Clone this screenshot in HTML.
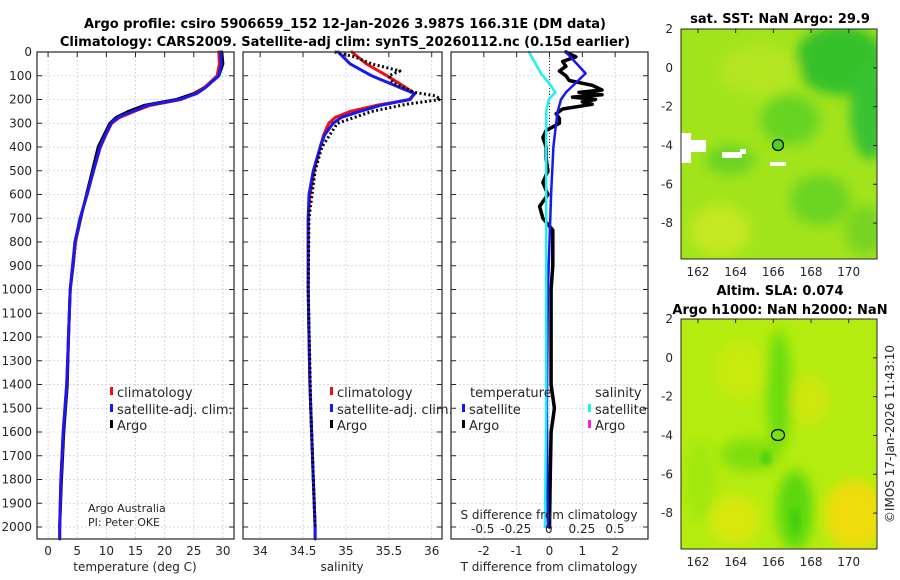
<!DOCTYPE html>
<html><head><meta charset="utf-8">
<style>
html,body{margin:0;padding:0;background:#fff;}
svg{display:block;font-family:"DejaVu Sans","Liberation Sans",sans-serif;}
.t{font-size:12px;fill:#262626;}
.b{font-size:13px;font-weight:bold;fill:#000;}
</style></head>
<body>
<svg id="fig" width="900" height="580" viewBox="0 0 900 580">
<defs>
<filter id="blur" x="-20%" y="-20%" width="140%" height="140%"><feGaussianBlur stdDeviation="6"/></filter>
<filter id="blur2" x="-20%" y="-20%" width="140%" height="140%"><feGaussianBlur stdDeviation="3"/></filter>
<clipPath id="c1"><rect x="681" y="29" width="196" height="230"/></clipPath>
<clipPath id="c2"><rect x="681" y="319" width="196" height="230"/></clipPath>
</defs>
<text class="b" x="345" y="28" text-anchor="middle">Argo profile: csiro 5906659_152 12-Jan-2026 3.987S 166.31E (DM data)</text>
<text class="b" x="345" y="46" text-anchor="middle">Climatology: CARS2009. Satellite-adj clim: synTS_20260112.nc (0.15d earlier)</text>

<!-- SST map -->
<g clip-path="url(#c1)">
<rect x="681" y="29" width="196" height="230" fill="#a2e41c"/>
<g filter="url(#blur)">
<ellipse cx="840" cy="60" rx="45" ry="35" fill="#34c02c"/>
<ellipse cx="870" cy="110" rx="20" ry="50" fill="#38c232"/>
<ellipse cx="790" cy="120" rx="30" ry="25" fill="#66d420"/>
<ellipse cx="820" cy="200" rx="30" ry="25" fill="#6ad420"/>
<ellipse cx="730" cy="160" rx="25" ry="15" fill="#6ad420"/>
<ellipse cx="720" cy="230" rx="30" ry="25" fill="#c4e820"/>
<ellipse cx="760" cy="70" rx="40" ry="25" fill="#b4e620"/>
<ellipse cx="865" cy="230" rx="20" ry="25" fill="#78d420"/>
</g>
<rect x="681" y="133" width="10" height="30" fill="#fff"/>
<rect x="691" y="140" width="15" height="12" fill="#fff"/>
<rect x="722" y="152" width="20" height="6" fill="#fff"/>
<rect x="740" y="149" width="6" height="5" fill="#fff"/>
<rect x="770" y="162" width="16" height="4" fill="#fff"/>
<circle cx="778" cy="145" r="5.5" fill="#50d020" stroke="#000" stroke-width="1.2"/>
</g>
<rect x="681" y="29" width="196" height="230" fill="none" stroke="#262626"/>
<text class="b" x="780" y="23" text-anchor="middle">sat. SST: NaN Argo: 29.9</text>

<!-- SLA map -->
<g clip-path="url(#c2)">
<rect x="681" y="319" width="196" height="230" fill="#b4ec10"/>
<g filter="url(#blur)">
<ellipse cx="779" cy="390" rx="12" ry="60" fill="#6adc10"/>
<ellipse cx="750" cy="455" rx="30" ry="16" fill="#80de10"/>
<ellipse cx="795" cy="510" rx="18" ry="40" fill="#5cd810"/>
<ellipse cx="855" cy="515" rx="30" ry="35" fill="#f0dc08"/>
<ellipse cx="735" cy="520" rx="25" ry="25" fill="#d8e808"/>
<ellipse cx="810" cy="400" rx="20" ry="25" fill="#cce810"/>
<ellipse cx="740" cy="370" rx="25" ry="30" fill="#c8ea10"/>
<ellipse cx="700" cy="480" rx="15" ry="40" fill="#a0e810"/>
</g>
<ellipse cx="795" cy="520" rx="5" ry="12" fill="#40d010" filter="url(#blur2)"/>
<ellipse cx="766" cy="458" rx="5" ry="7" fill="#48d010" filter="url(#blur2)"/>
<ellipse cx="778" cy="435" rx="6.5" ry="5.5" fill="none" stroke="#000" stroke-width="1.2"/>
</g>
<rect x="681" y="319" width="196" height="230" fill="none" stroke="#262626"/>
<text class="b" x="780" y="295" text-anchor="middle">Altim. SLA: 0.074</text>
<text class="b" x="780" y="314" text-anchor="middle">Argo h1000: NaN h2000: NaN</text>
<text class="t" x="0" y="0" transform="translate(894,434) rotate(-90)" text-anchor="middle">©IMOS 17-Jan-2026 11:43:10</text>
<g id="plots"></g>
</svg>
<script>
// depth profiles (m)
const depthT = [0,50,100,150,175,200,225,250,275,300,350,400,500,600,700,800,900,1000,1200,1400,1600,1800,2000,2050];
const tempClim = [29.3,29.4,29.0,26.8,25.3,22.8,17.5,14.8,12.3,10.9,9.9,9.0,7.8,6.7,5.5,4.7,4.2,3.8,3.5,3.2,2.6,2.2,2.0,2.0];
const tempSat  = [29.6,29.7,29.3,27.0,25.5,22.5,17.0,14.5,12.0,10.8,9.8,8.9,7.8,6.7,5.5,4.6,4.2,3.8,3.5,3.2,2.6,2.2,2.0,2.0];
const tempArgo = [29.8,30.0,29.3,26.8,25.0,22.0,16.5,13.8,11.7,10.6,9.6,8.6,7.6,6.6,5.6,4.7,4.3,3.8,3.5,3.3,2.7,2.3,2.0];
const depthS = [0,50,100,150,175,200,225,250,275,300,350,400,500,600,700,800,1000,1200,1400,1600,1800,2000,2050];
const salClim = [35.07,35.24,35.48,35.70,35.80,35.75,35.35,35.05,34.88,34.80,34.74,34.70,34.63,34.58,34.56,34.56,34.56,34.57,34.58,34.60,34.62,34.64,34.64];
const salSat  = [34.91,35.05,35.30,35.63,35.80,35.74,35.40,35.16,34.95,34.85,34.75,34.70,34.62,34.57,34.56,34.56,34.56,34.57,34.58,34.60,34.62,34.64,34.64];
const depthSA = [0,20,50,80,100,130,170,185,200,220,250,300,400,500,700,1000,1500,2000];
const salArgo = [34.87,35.1,35.3,35.63,35.5,35.55,35.8,36.05,36.1,35.7,35.3,34.9,34.72,34.64,34.57,34.56,34.59,34.64];
const depthD = [0,30,90,130,170,200,250,300,400,600,800,1000,1500,2000];
const tDiffSat = [0.5,0.7,1.1,0.8,0.5,0.35,0.25,0.2,0.12,0.05,0.0,-0.05,-0.08,-0.05];
const sDiffSat = [-0.15,-0.12,-0.06,0.0,0.05,0.0,-0.02,-0.02,-0.02,-0.02,-0.02,-0.02,-0.02,-0.03];
const depthTA = [0,20,40,60,80,100,120,140,160,170,180,190,200,210,220,240,260,280,300,330,360,400,450,500,550,600,650,700,750,800,900,1000,1200,1400,1500,1600,1800,2000];
const tDiffArgo = [0.5,0.8,0.4,0.5,0.3,0.5,0.6,1.3,1.6,0.9,1.6,0.7,1.4,1.0,1.3,0.4,0.2,0.3,0.3,-0.1,-0.2,-0.1,-0.1,-0.05,-0.2,-0.05,-0.3,-0.2,0.1,0.1,0.1,0.05,0.05,0.05,0.15,0.05,0.02,0.0];
const depthTicks = [0,100,200,300,400,500,600,700,800,900,1000,1100,1200,1300,1400,1500,1600,1700,1800,1900,2000];
const tempTicks = [0,5,10,15,20,25,30];
const salTicks = [34,34.5,35,35.5,36];
const salTickLabels = ["34","34.5","35","35.5","36"];
const tdTicks = [-2,-1,0,1,2];
const sdTicks = [-0.5,-0.25,0,0.25,0.5];
const sdTickLabels = ["-0.5","-0.25","0","0.25","0.5"];
const mapLat = [2,0,-2,-4,-6,-8];
const mapLon = [162,164,166,168,170];

const NS = "http://www.w3.org/2000/svg";
const root = document.getElementById("plots");
const TOP = 52, BOT = 539;
const yD = d => TOP + d * (527 - 52) / 2000;
function mk(tag, attrs, parent) {
  const e = document.createElementNS(NS, tag);
  for (const k in attrs) e.setAttribute(k, attrs[k]);
  (parent || root).appendChild(e);
  return e;
}
function txt(x, y, s, anchor, cls) {
  const e = mk("text", {x: x, y: y, "text-anchor": anchor || "middle", class: cls || "t"});
  e.textContent = s;
  return e;
}
const panels = [
  {x0: 37, x1: 234, v0: -1.9, v1: 31.9, name: "temperature"},
  {x0: 243, x1: 442, v0: 33.8, v1: 36.12, name: "salinity"},
  {x0: 451, x1: 648, v0: -3, v1: 3, name: "difference"}
];
function sx(p, v) { return p.x0 + (v - p.v0) * (p.x1 - p.x0) / (p.v1 - p.v0); }
const pS = {x0: 451, x1: 648, v0: -0.74, v1: 0.75};

panels.forEach((p, i) => {
  const fr = mk("rect", {x: p.x0, y: TOP, width: p.x1 - p.x0, height: BOT - TOP, fill: "#fff"});
  
  
  depthTicks.forEach(d => {
    const g = mk("line", {x1: p.x0, x2: p.x1, y1: yD(d), y2: yD(d), stroke: "#c8cce8", "stroke-dasharray": "2,2", "stroke-width": 0.8});
    
    
    const tk = mk("line", {x1: p.x1 - 5, x2: p.x1, y1: yD(d), y2: yD(d), stroke: "#262626"});
    
    
    const tk2 = mk("line", {x1: p.x0, x2: p.x0 + 5, y1: yD(d), y2: yD(d), stroke: "#262626"});
    
    
    if (i === 0) {
      const l = txt(32, yD(d) + 4, String(d), "end");
      
      
    }
  });
});
function vgrid(p, vals, labels, scaleFn, ly) {
  vals.forEach((v, k) => {
    const x = scaleFn(v);
    const g = mk("line", {x1: x, x2: x, y1: TOP, y2: BOT, stroke: "#c8cce8", "stroke-dasharray": "2,2", "stroke-width": 0.8});
    
    
    const tk = mk("line", {x1: x, x2: x, y1: TOP, y2: TOP + 5, stroke: "#262626"});
    
    
    const l = txt(x, ly, labels[k]);
    
    
  });
}
vgrid(panels[0], tempTicks, tempTicks.map(String), v => sx(panels[0], v), 555);
vgrid(panels[1], salTicks, salTickLabels, v => sx(panels[1], v), 555);
vgrid(panels[2], tdTicks, tdTicks.map(String), v => sx(panels[2], v), 555);
const zl = mk("line", {x1: sx(panels[2], 0), x2: sx(panels[2], 0), y1: TOP, y2: 160, stroke: "#333", "stroke-dasharray": "1,2"});



function series(xs, ds, fn, color, w, dash, name) {
  const pts = xs.map((v, k) => fn(v).toFixed(1) + "," + yD(ds[k]).toFixed(1)).join(" ");
  const e = mk("polyline", {points: pts, fill: "none", stroke: color, "stroke-width": w, "stroke-linejoin": "round", "stroke-linecap": dash ? "butt" : "round"});
  if (dash) e.setAttribute("stroke-dasharray", dash);
  
  
}
const fT = v => sx(panels[0], v), fSa = v => sx(panels[1], v), fTd = v => sx(panels[2], v), fSd = v => sx(pS, v);
series(tempArgo, depthT, fT, "#000", 3, null, "temp-argo-line");
series(tempClim, depthT, fT, "#f01010", 3, null, "temp-climatology-line");
series(tempSat, depthT, fT, "#1818f0", 3, null, "temp-satellite-line");
series(salClim, depthS, fSa, "#f01010", 3, null, "sal-climatology-line");
series(salSat, depthS, fSa, "#1818f0", 3, null, "sal-satellite-line");
series(salArgo, depthSA, fSa, "#000", 3, "2,2.5", "sal-argo-line");
series(tDiffArgo, depthTA, fTd, "#000", 3.5, null, "tdiff-argo-line");
series(tDiffSat, depthD, fTd, "#1818f0", 2.5, null, "tdiff-satellite-line");
series(sDiffSat, depthD, fSd, "#20f0f0", 2.5, null, "sdiff-satellite-line");

panels.forEach(p => {
  const fr = mk("rect", {x: p.x0, y: TOP, width: p.x1 - p.x0, height: BOT - TOP, fill: "none", stroke: "#262626", "stroke-width": 1.2});
  
  
});
sdTicks.forEach((v, k) => {
  const l = txt(fSd(v), 533, sdTickLabels[k]);
  
  
});
let e;
e = txt(549, 519, "S difference from climatology");  
e = txt(135, 571, "temperature (deg C)");  
e = txt(342, 571, "salinity");  
e = txt(549, 571, "T difference from climatology");  
e = txt(88, 512, "Argo Australia", "start");  
e.setAttribute("style", "font-size:11px");
e = txt(88, 526, "PI: Peter OKE", "start");  
e.setAttribute("style", "font-size:11px");

function legendItem(x, y, color, label) {
  const m = mk("rect", {x: x, y: y - 10, width: 3, height: 8, fill: color});
  
  
  const t = txt(x + 7, y, label, "start");
  t.setAttribute("style", "font-size:13px");
  
  
}
legendItem(110, 397, "#f01010", "climatology");
legendItem(110, 414, "#1818f0", "satellite-adj. clim.");
legendItem(110, 430, "#000", "Argo");
legendItem(330, 397, "#f01010", "climatology");
legendItem(330, 414, "#1818f0", "satellite-adj. clim.");
legendItem(330, 430, "#000", "Argo");
e = txt(470, 397, "temperature", "start"); e.setAttribute("style", "font-size:13px");  
e = txt(595, 397, "salinity", "start"); e.setAttribute("style", "font-size:13px");  
legendItem(462, 414, "#1818f0", "satellite");
legendItem(462, 430, "#000", "Argo");
legendItem(588, 414, "#20f0f0", "satellite");
legendItem(588, 430, "#f020f0", "Argo");

function mapAxes(top, bottom) {
  const latY = v => top + (2 - v) * (bottom - top) / 11.85;
  const lonX = v => 681 + (v - 161.1) * 196 / 10.4;
  mapLat.forEach(v => {
    const y = latY(v);
    const l = txt(673, y + 4, String(v), "end");
    
    
    const tk = mk("line", {x1: 873, x2: 877, y1: y, y2: y, stroke: "#262626"});
    
    
  });
  mapLon.forEach(v => {
    const x = lonX(v);
    const l = txt(x, bottom + 17, String(v));
    
    
    const tk = mk("line", {x1: x, x2: x, y1: top, y2: top + 4, stroke: "#262626"});
    
    
  });
}
mapAxes(29, 259);
mapAxes(319, 549);
</script>
</body></html>
